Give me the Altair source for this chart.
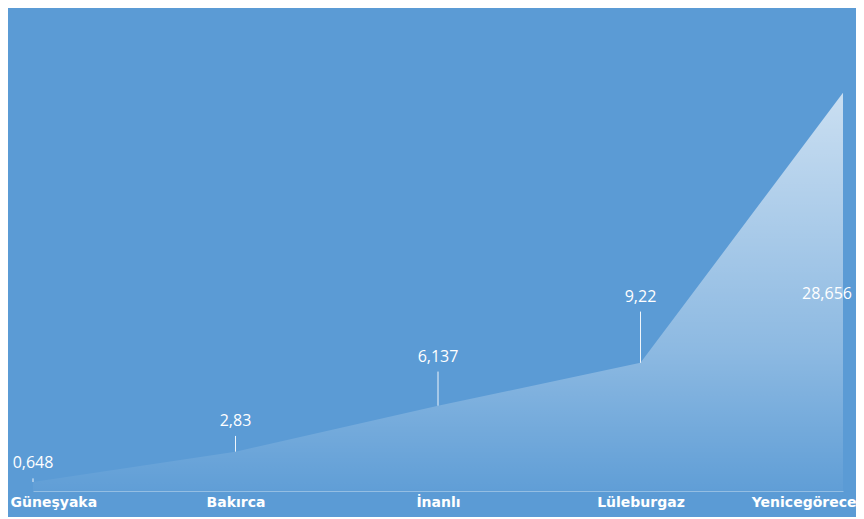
import altair as alt
import pandas as pd

districts = ["Güneşyaka", "Bakırca", "İnanlı", "Lüleburgaz", "Yenicegörece"]
values = [0.648, 2.83, 6.137, 9.22, 28.656]
value_labels = ["0,648", "2,83", "6,137", "9,22", "28,656"]

df = pd.DataFrame({"district": districts, "value": values, "label": value_labels})

first, last = districts[0], districts[-1]

x_axis = alt.Axis(
    title=None,
    ticks=False,
    grid=False,
    domainColor="white",
    domainOpacity=0.35,
    domainWidth=1,
    labelColor="white",
    labelFont="DejaVu Sans",
    labelFontSize=14,
    labelFontWeight="bold",
    labelAngle=0,
    labelPadding=4,
    labelAlign={
        "condition": [
            {"test": f"datum.value === '{first}'", "value": "left"},
            {"test": f"datum.value === '{last}'", "value": "right"},
        ],
        "value": "center",
    },
    labelOffset={
        "condition": [
            {"test": f"datum.value === '{first}'", "value": -23},
            {"test": f"datum.value === '{last}'", "value": 13},
        ],
        "value": 0,
    },
)

x = alt.X("district:N", sort=districts, scale=alt.Scale(type="point", padding=0), axis=x_axis)
y_scale = alt.Scale(domain=[0, 30])

base = alt.Chart(df)

area = base.mark_area(
    color=alt.Gradient(
        gradient="linear",
        stops=[
            alt.GradientStop(color="rgba(255,255,255,0.68)", offset=0),
            alt.GradientStop(color="rgba(255,255,255,0.30)", offset=0.65),
            alt.GradientStop(color="rgba(255,255,255,0.03)", offset=1),
        ],
        x1=1, x2=1, y1=0, y2=1,
    )
).encode(x=x, y=alt.Y("value:Q", scale=y_scale, axis=None))

with_top = base.transform_calculate(top="min(datum.value * 1.4, 13.1)")

rules = with_top.transform_filter("datum.value * 1.4 < 13.1").mark_rule(
    color="white", strokeWidth=1, opacity=0.9
).encode(x=x, y=alt.Y("value:Q", scale=y_scale, axis=None), y2="top:Q")

texts = with_top.transform_filter(f"datum.district !== '{last}'").mark_text(
    color="white", font="Open Sans", fontSize=16, dy=-15, baseline="middle"
).encode(x=x, y=alt.Y("top:Q", scale=y_scale, axis=None), text="label:N")

text_last = with_top.transform_filter(f"datum.district === '{last}'").mark_text(
    color="white", font="Open Sans", fontSize=16, dy=-15, dx=-16, baseline="middle"
).encode(x=x, y=alt.Y("top:Q", scale=y_scale, axis=None), text="label:N")

chart = (
    alt.layer(area, rules, texts, text_last)
    .properties(
        width=810,
        height=417,
        background="#5B9BD5",
        padding={"left": 25, "top": 66, "right": 13, "bottom": 26},
        autosize=alt.AutoSizeParams(type="none"),
    )
    .configure_view(stroke=None)
)

chart.save("out.html", embed_options={"renderer": "svg", "actions": False})
